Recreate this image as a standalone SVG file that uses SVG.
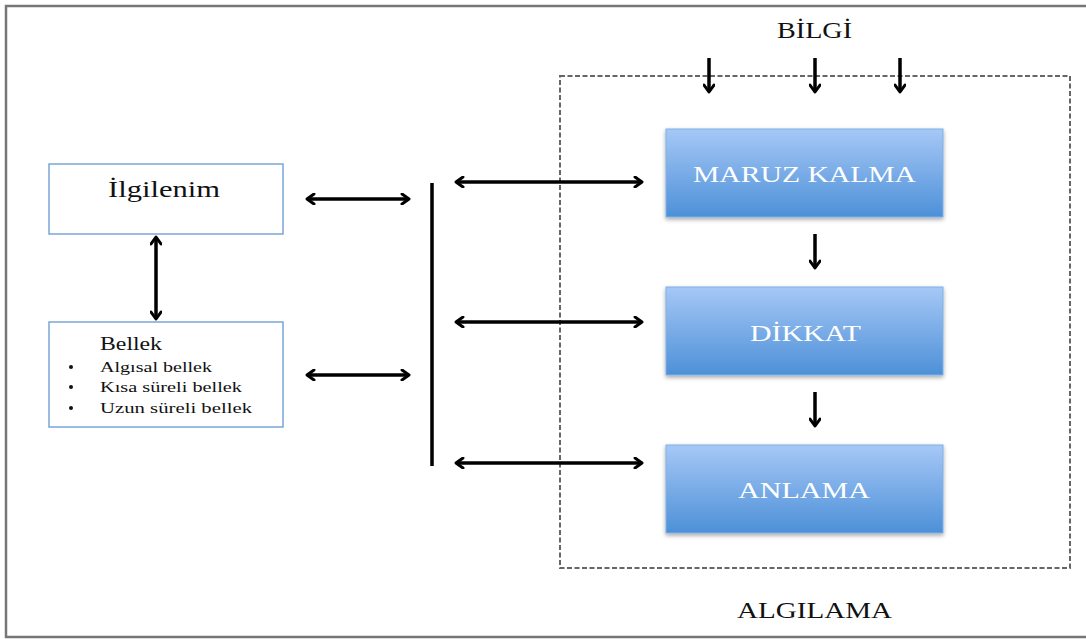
<svg xmlns="http://www.w3.org/2000/svg" width="1086" height="639" viewBox="0 0 1086 639">
<defs>
<linearGradient id="blue" x1="0" y1="0" x2="0" y2="1">
<stop offset="0" stop-color="#a6c8f6"/>
<stop offset="1" stop-color="#4d90d8"/>
</linearGradient>
<filter id="sh" x="-10%" y="-10%" width="120%" height="130%">
<feDropShadow dx="0" dy="2" stdDeviation="2" flood-color="#000" flood-opacity="0.35"/>
</filter>
<marker id="ah" viewBox="0 0 12 12" refX="10" refY="6" markerWidth="12" markerHeight="12" markerUnits="userSpaceOnUse" orient="auto-start-reverse">
<polyline points="3,1 10,6 3,11" fill="none" stroke="#000" stroke-width="3" stroke-linecap="round" stroke-linejoin="round"/>
</marker>
</defs>
<style>
.t{font-family:"Liberation Serif","DejaVu Serif",serif;fill:#111}
.w{font-family:"Liberation Serif","DejaVu Serif",serif;fill:#fff;font-size:24px}
.c{stroke:#000;stroke-width:3.5;fill:none;marker-end:url(#ah)}
.b{stroke:#000;stroke-width:3.5;fill:none;marker-start:url(#ah);marker-end:url(#ah)}
.box{fill:#fff;stroke:#7aa6d8;stroke-width:1.5}
.blue{fill:url(#blue);stroke:#7fb0e6;stroke-width:1;filter:url(#sh)}
</style>
<rect width="1086" height="639" fill="#fff"/>
<polyline points="1086,6 6,6 6,637 1086,637" fill="none" stroke="#777" stroke-width="2.5"/>
<rect id="algilama-frame" x="560" y="76" width="510" height="492" fill="none" stroke="#666" stroke-width="2" stroke-dasharray="5,2.5"/>
<g id="bilgi"><text class="t" x="777" y="38" font-size="24" textLength="75" lengthAdjust="spacingAndGlyphs">BİLGİ</text></g>
<g id="algilama"><text class="t" x="737" y="618" font-size="24" textLength="155" lengthAdjust="spacingAndGlyphs">ALGILAMA</text></g>
<g id="ilgilenim">
<rect class="box" x="49" y="164" width="234" height="70"/>
<text class="t" x="108" y="197" font-size="24" textLength="112" lengthAdjust="spacingAndGlyphs">İlgilenim</text>
</g>
<g id="bellek">
<rect class="box" x="49" y="322" width="234" height="105"/>
<text class="t" x="100" y="350" font-size="18" textLength="62" lengthAdjust="spacingAndGlyphs">Bellek</text>
<circle cx="71" cy="367" r="2" fill="#111"/>
<text class="t" x="100" y="372" font-size="15" textLength="112" lengthAdjust="spacingAndGlyphs">Algısal bellek</text>
<circle cx="71" cy="387" r="2" fill="#111"/>
<text class="t" x="100" y="392" font-size="15" textLength="142" lengthAdjust="spacingAndGlyphs">Kısa süreli bellek</text>
<circle cx="71" cy="408" r="2" fill="#111"/>
<text class="t" x="100" y="413" font-size="15" textLength="152" lengthAdjust="spacingAndGlyphs">Uzun süreli bellek</text>
</g>
<g id="maruz">
<rect class="blue" x="666" y="129" width="277" height="88"/>
<text class="w" x="693" y="182" textLength="223" lengthAdjust="spacingAndGlyphs">MARUZ KALMA</text>
</g>
<g id="dikkat">
<rect class="blue" x="666" y="287" width="277" height="88"/>
<text class="w" x="750" y="341" textLength="111" lengthAdjust="spacingAndGlyphs">DİKKAT</text>
</g>
<g id="anlama">
<rect class="blue" x="666" y="445" width="277" height="88"/>
<text class="w" x="738" y="498" textLength="132" lengthAdjust="spacingAndGlyphs">ANLAMA</text>
</g>
<g id="connectors">
<line x1="432" y1="183" x2="432" y2="466" stroke="#000" stroke-width="3.5"/>
<line class="b" x1="156" y1="237" x2="156" y2="319"/>
<line class="b" x1="307" y1="199" x2="409" y2="199"/>
<line class="b" x1="307" y1="375" x2="409" y2="375"/>
<line class="b" x1="456" y1="182" x2="642" y2="182"/>
<line class="b" x1="456" y1="322" x2="642" y2="322"/>
<line class="b" x1="456" y1="463" x2="642" y2="463"/>
<line class="c" x1="709" y1="58" x2="709" y2="92"/>
<line class="c" x1="815" y1="58" x2="815" y2="92"/>
<line class="c" x1="900" y1="58" x2="900" y2="92"/>
<line class="c" x1="815" y1="234" x2="815" y2="268"/>
<line class="c" x1="815" y1="392" x2="815" y2="426"/>
</g>
</svg>
